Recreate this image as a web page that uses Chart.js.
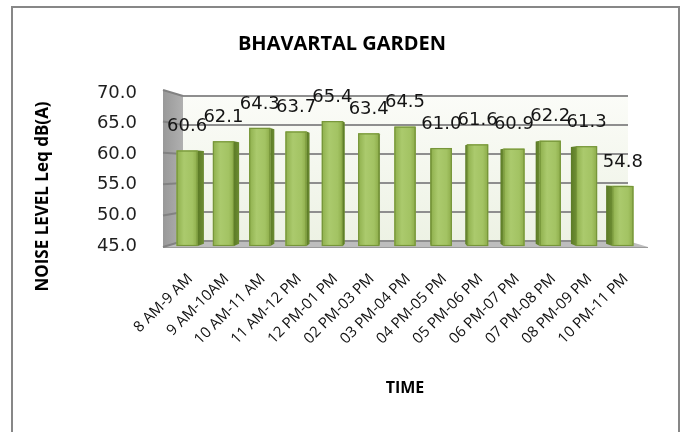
<!DOCTYPE html>
<html>
<head>
<meta charset="utf-8">
<script src="https://cdn.jsdelivr.net/npm/chart.js@4.4.0/dist/chart.umd.min.js"></script>
<style>
  html, body { margin: 0; padding: 0; background: #fff; }
  #wrap { position: relative; width: 684px; height: 432px; overflow: hidden; }
  #frame { position: absolute; left: 11px; top: 6px; width: 669px; height: 440px;
           border: 2px solid #878787; border-bottom: none; box-sizing: border-box; pointer-events: none; }
  canvas { position: absolute; left: 0; top: 0; }
</style>
</head>
<body>
<div id="wrap">
  <canvas id="chart" width="684" height="432"></canvas>
  <div id="frame"></div>
</div>
<script>
// Hourly noise levels, Bhavartal Garden
const timeSlots = [
  "8 AM-9 AM", "9 AM-10AM", "10 AM-11 AM", "11 AM-12 PM", "12 PM-01 PM",
  "02 PM-03 PM", "03 PM-04 PM", "04 PM-05 PM", "05 PM-06 PM", "06 PM-07 PM",
  "07 PM-08 PM", "08 PM-09 PM", "10 PM-11 PM"
];
const noiseLevels = [60.6, 62.1, 64.3, 63.7, 65.4, 63.4, 64.5, 61.0, 61.6, 60.9, 62.2, 61.3, 54.8];
const yMin = 45;
const yMax = 70;
const yStep = 5;
const chartTitle = "BHAVARTAL GARDEN";
const xTitle = "TIME";
const yTitle = "NOISE LEVEL Leq dB(A)";

// Perspective helpers: the front plane of the box is a little larger than the
// plane the bars stand in, the back wall a little smaller.
function planes(area) {
  const frontL = area.left - 6, frontR = area.right + 7;
  const backL = area.left + 14, backR = area.right - 13;
  const yFront = y => area.bottom + 1 + (y - area.bottom) * 1.026;
  const yBack = y => area.bottom - 5 + (y - area.bottom) * 0.948;
  return { frontL, frontR, backL, backR, yFront, yBack };
}

const boxPlugin = {
  id: 'box3d',
  beforeDatasetsDraw(chart) {
    const { ctx, chartArea: a, scales: { y } } = chart;
    const p = planes(a);
    const topB = p.yBack(a.top), botB = p.yBack(a.bottom);
    const topF = p.yFront(a.top), botF = p.yFront(a.bottom);
    ctx.save();
    // back wall
    const g = ctx.createLinearGradient(0, topB, 0, botB);
    g.addColorStop(0, '#fbfcf8');
    g.addColorStop(1, '#edf2e4');
    ctx.fillStyle = g;
    ctx.fillRect(p.backL, topB, p.backR - p.backL, botB - topB);
    // left wall
    const gl = ctx.createLinearGradient(p.frontL, 0, p.backL, 0);
    gl.addColorStop(0, '#999999');
    gl.addColorStop(1, '#b0b0b0');
    ctx.fillStyle = gl;
    ctx.beginPath();
    ctx.moveTo(p.frontL, topF); ctx.lineTo(p.backL, topB);
    ctx.lineTo(p.backL, botB); ctx.lineTo(p.frontL, botF);
    ctx.closePath(); ctx.fill();
    // floor
    ctx.fillStyle = '#bdbdbd';
    ctx.beginPath();
    ctx.moveTo(p.frontL, botF); ctx.lineTo(p.backL, botB);
    ctx.lineTo(p.backR, botB); ctx.lineTo(p.frontR, botF);
    ctx.closePath(); ctx.fill();
    ctx.strokeStyle = '#9a9a9a'; ctx.lineWidth = 1;
    ctx.beginPath(); ctx.moveTo(p.frontL, botF + 0.5); ctx.lineTo(p.frontR, botF + 0.5); ctx.stroke();
    // gridlines on back and left walls
    ctx.lineWidth = 2;
    y.ticks.forEach(t => {
      const py = y.getPixelForValue(t.value);
      ctx.strokeStyle = '#8e8e8e';
      ctx.beginPath();
      ctx.moveTo(p.backL, p.yBack(py)); ctx.lineTo(p.backR, p.yBack(py));
      ctx.stroke();
      ctx.strokeStyle = '#828282';
      ctx.beginPath();
      ctx.moveTo(p.frontL, p.yFront(py)); ctx.lineTo(p.backL, p.yBack(py));
      ctx.stroke();
    });
    ctx.restore();
  },
  afterDatasetsDraw(chart) {
    const { ctx, chartArea: a } = chart;
    const p = planes(a);
    const vx = (p.frontL + p.frontR) / 2, vy = (a.top + a.bottom) / 2, k = 0.03;
    const meta = chart.getDatasetMeta(0);
    ctx.save();
    meta.data.forEach(bar => {
      const props = bar.getProps(['x', 'y', 'base', 'width'], true);
      const { x, y, width } = props;
      const base = Math.min(props.base, a.bottom);
      const x0 = x - width / 2, x1 = x + width / 2;
      const back = (px, py) => [px + (vx - px) * k, py + (vy - py) * k];
      // side face toward the vanishing point
      const sx = x < vx ? x1 : x0;
      const [bx, bt] = back(sx, y);
      const [, bb] = back(sx, base);
      const gs = ctx.createLinearGradient(Math.min(sx, bx), 0, Math.max(sx, bx) + 0.01, 0);
      gs.addColorStop(0, '#5b7a26');
      gs.addColorStop(1, '#6d8d33');
      ctx.fillStyle = gs;
      ctx.beginPath();
      ctx.moveTo(sx, y); ctx.lineTo(bx, bt); ctx.lineTo(bx, bb); ctx.lineTo(sx, base);
      ctx.closePath(); ctx.fill();
      // top face when it faces the viewer
      if (y > vy) {
        const [tx0, ty0] = back(x0, y);
        const [tx1, ty1] = back(x1, y);
        ctx.fillStyle = '#bcd68a';
        ctx.beginPath();
        ctx.moveTo(x0, y); ctx.lineTo(x1, y); ctx.lineTo(tx1, ty1); ctx.lineTo(tx0, ty0);
        ctx.closePath(); ctx.fill();
      }
      // front face
      const gf = ctx.createLinearGradient(x0, 0, x1, 0);
      gf.addColorStop(0, '#8eaf4c');
      gf.addColorStop(0.35, '#abca6d');
      gf.addColorStop(0.75, '#a3c363');
      gf.addColorStop(1, '#8cab49');
      ctx.fillStyle = gf;
      ctx.fillRect(x0, y, width, base - y);
      ctx.strokeStyle = '#77963a';
      ctx.lineWidth = 1.2;
      ctx.strokeRect(x0 + 0.5, y + 0.5, width - 1, base - y - 1);
    });
    ctx.restore();
  },
  afterDraw(chart) {
    const { ctx, chartArea: a } = chart;
    const meta = chart.getDatasetMeta(0);
    ctx.save();
    // value labels above the bars
    ctx.font = '18px "DejaVu Sans"';
    ctx.fillStyle = '#141414';
    ctx.textAlign = 'center';
    ctx.textBaseline = 'middle';
    meta.data.forEach((bar, i) => {
      ctx.fillText(noiseLevels[i].toFixed(1), bar.x, bar.y - 24);
    });
    // vertical axis title
    ctx.translate(43, (a.top + a.bottom) / 2 + 27);
    ctx.rotate(-Math.PI / 2);
    ctx.font = 'bold 17px "Open Sans"';
    ctx.fillStyle = '#000';
    ctx.fillText(yTitle, 0, 0);
    ctx.restore();
  }
};

new Chart(document.getElementById('chart'), {
  type: 'bar',
  data: {
    labels: timeSlots,
    datasets: [{
      data: noiseLevels,
      backgroundColor: '#9bbb59',
      borderWidth: 0,
      barPercentage: 0.58,
      categoryPercentage: 1
    }]
  },
  options: {
    responsive: false,
    animation: false,
    devicePixelRatio: 1,
    layout: { padding: { left: 43, right: 43, top: 10, bottom: 30 } },
    plugins: {
      legend: { display: false },
      tooltip: { enabled: false },
      title: {
        display: true,
        text: chartTitle,
        color: '#000',
        font: { family: 'Open Sans', size: 20, weight: 'bold' },
        padding: { top: 22, bottom: 37 }
      }
    },
    scales: {
      x: {
        grid: { display: false, drawTicks: false },
        border: { display: false },
        ticks: {
          autoSkip: false,
          maxRotation: 45,
          minRotation: 45,
          padding: 24,
          labelOffset: 3,
          color: '#111',
          font: { family: 'Open Sans', size: 15 }
        },
        title: {
          display: true,
          text: xTitle,
          color: '#000',
          font: { family: 'Open Sans', size: 16, weight: 'bold' },
          padding: { top: 0, bottom: 4 }
        },
        afterFit: s => { s.height = 156; }
      },
      y: {
        min: yMin,
        max: yMax,
        grid: { display: false, drawTicks: false },
        border: { display: false },
        ticks: {
          stepSize: yStep,
          padding: 32,
          color: '#1e1e1e',
          font: { family: 'DejaVu Sans', size: 18 },
          callback: v => Number(v).toFixed(1)
        },
        afterFit: s => { s.width = 126; }
      }
    }
  },
  plugins: [boxPlugin]
});
</script>
</body>
</html>
